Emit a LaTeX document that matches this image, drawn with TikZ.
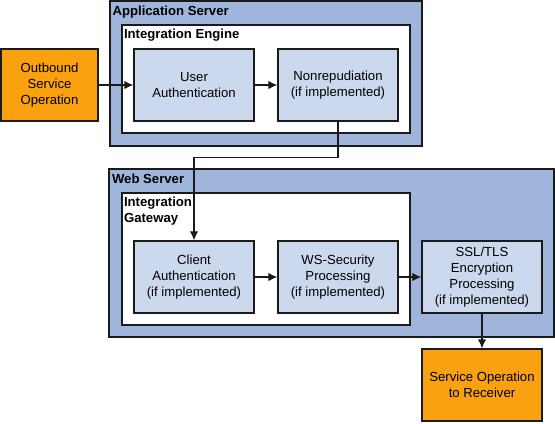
\documentclass[tikz,border=0pt]{standalone}
\usepackage{fontspec}
\setmainfont{Liberation Sans}
\usetikzlibrary{positioning, calc, arrows.meta}
\definecolor{serverblue}{HTML}{A0B5DB}
\definecolor{stageblue}{HTML}{CBD8EE}
\definecolor{msgorange}{HTML}{F9A10F}
\definecolor{edgegray}{HTML}{1A1A1A}

\begin{document}
\begin{tikzpicture}[x=1bp, y=-1bp,
                    font=\fontsize{13.2}{16}\selectfont,
                    server/.style={draw=edgegray,
                                   line width=1.3bp,
                                   fill=serverblue,
                                   inner sep=0pt},
                    engine/.style={server, fill=white},
                    stage/.style={draw=edgegray,
                                  line width=1.3bp,
                                  fill=stageblue,
                                  minimum width=120bp,
                                  minimum height=72bp,
                                  align=center,
                                  inner sep=0pt},
                    message/.style={stage, fill=msgorange},
                    title/.style={anchor=base west,
                                  align=left,
                                  inner sep=0pt,
                                  font=\fontsize{13.2}{16}\selectfont\bfseries},
                    post/.style={->,
                                 draw=edgegray,
                                 line width=1.3bp,
                                 >={Latex[length=9bp,width=8.5bp]}}]
	\useasboundingbox (0,0) rectangle (555,423);

	% containers
	\node [server, minimum width=312bp, minimum height=145bp] (AppServer) at (266,73.5) {};
	\node [engine, minimum width=288bp, minimum height=108bp] (Engine) at (266,79) {};
	\node [server, minimum width=445bp, minimum height=168bp] (WebServer) at (331.5,253) {};
	\node [engine, minimum width=288bp, minimum height=132bp] (Gateway) at (266,259) {};

	\node [title] (AppServerTitle) at ($(AppServer.north west)+(3,15)$) {Application Server};
	\node [title] (EngineTitle) at ($(Engine.north west)+(2.5,14.5)$) {Integration Engine};
	\node [title] (WebServerTitle) at ($(WebServer.north west)+(3.5,15.5)$) {Web Server};
	\node [title] (GatewayTitle) at ($(Gateway.north west)+(2.5,30.5)$) {Integration\\Gateway};

	% stages
	\node [message, minimum width=97bp] (Outbound) at (49.5,85) {Outbound\\Service\\Operation};
	\node [stage] (UserAuth) at (194,85) {User\\Authentication};
	\node [stage] (NonRep) at (338,85) {Nonrepudiation\\(if implemented)};
	\node [stage] (ClientAuth) at (194,277) {Client\\Authentication\\(if implemented)};
	\node [stage] (WSSecurity) at (338,277) {WS-Security\\Processing\\(if implemented)};
	\node [stage] (SSLTLS) at (482,277) {SSL/TLS\\Encryption\\Processing\\(if implemented)};
	\node [message] (Receiver) at (482,385) {Service Operation\\to Receiver};

	\draw[post] (Outbound.east) -- (UserAuth.west);
	\draw[post] (UserAuth.east) -- (NonRep.west);
	\draw[post] (NonRep.south) -- ++(0,36) -| (ClientAuth.north);
	\draw[post] (ClientAuth.east) -- (WSSecurity.west);
	\draw[post] (WSSecurity.east) -- (SSLTLS.west);
	\draw[post] (SSLTLS.south) -- (Receiver.north);
\end{tikzpicture}
\end{document}
